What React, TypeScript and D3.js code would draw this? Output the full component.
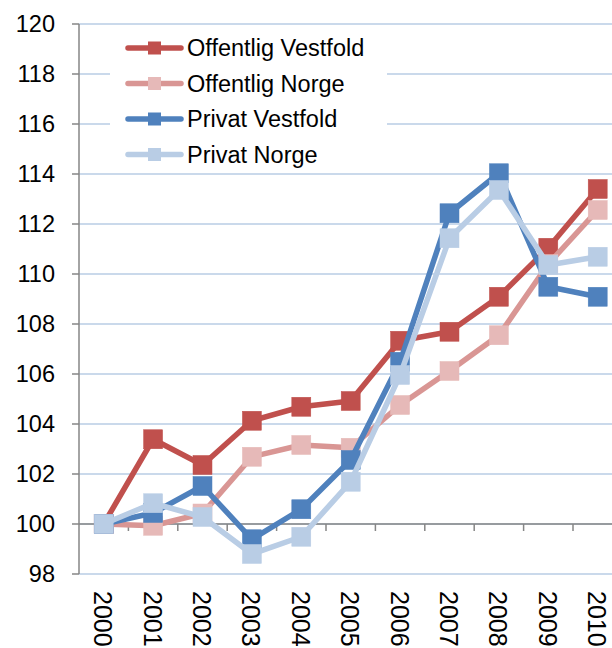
import React from "react";
import * as d3 from "d3";

const years = ["2000","2001","2002","2003","2004","2005","2006","2007","2008","2009","2010"];
const offentligVestfold = [100, 103.39, 102.36, 104.13, 104.69, 104.92, 107.33, 107.69, 109.09, 111.05, 113.4];
const offentligNorge = [100, 99.93, 100.42, 102.69, 103.16, 103.05, 104.76, 106.12, 107.55, 110.4, 112.56];
const privatVestfold = [100, 100.44, 101.52, 99.39, 100.59, 102.56, 106.49, 112.43, 114.03, 109.49, 109.09];
const privatNorge = [100, 100.83, 100.28, 98.8, 99.49, 101.69, 105.96, 111.43, 113.36, 110.36, 110.69];
const yTicks = [98, 100, 102, 104, 106, 108, 110, 112, 114, 116, 118, 120];

const seriesNames = ["Offentlig Vestfold", "Offentlig Norge", "Privat Vestfold", "Privat Norge"];
const seriesValues = [offentligVestfold, offentligNorge, privatVestfold, privatNorge];
const lineColors = ["#C0504D", "#D99694", "#4F81BD", "#B9CDE5"];
const markerColors = ["#C0504D", "#E6B9B8", "#4F81BD", "#B9CDE5"];

export default function App() {
  const W = 612, H = 648;
  const x0 = 79, band = 49.4;
  const x = d3.scaleBand<string>().domain(years).range([x0, x0 + band * years.length]).padding(0);
  const y = d3.scaleLinear().domain([98, 120]).range([574, 24]);
  const cx = (yr: string) => (x(yr) as number) + x.bandwidth() / 2;
  const line = d3.line<number>().x((_, i) => cx(years[i])).y((v) => y(v));
  const font = "'Liberation Sans', Arial, sans-serif";
  const ms = 19;
  const legendRows = [48, 83.5, 119, 154.5];

  return (
    <svg width={W} height={H} style={{ position: "absolute", left: 0, top: 0, background: "#fff" }} fontFamily={font}>
      <rect x={0} y={0} width={W} height={H} fill="#fff" />
      {yTicks.map((t) => (
        <line key={"g" + t} x1={x0} x2={W} y1={y(t)} y2={y(t)} stroke="#B9CDE5" strokeWidth={1.4} />
      ))}
      {/* legend background */}
      <rect x={110} y={30} width={277} height={140} fill="#fff" />
      {/* y axis */}
      <line x1={x0} x2={x0} y1={y(120)} y2={y(98)} stroke="#868686" strokeWidth={1.5} />
      {yTicks.map((t) => (
        <g key={"t" + t}>
          <line x1={72} x2={x0} y1={y(t)} y2={y(t)} stroke="#868686" strokeWidth={1.5} />
          <text x={55} y={y(t)} textAnchor="end" dominantBaseline="central" fontSize={23.5} fill="#000">{t}</text>
        </g>
      ))}
      {/* category axis crossing at 100 */}
      <line x1={x0} x2={W} y1={y(100)} y2={y(100)} stroke="#868686" strokeWidth={1.5} />
      {years.map((yr) => (
        <line key={"ct" + yr} x1={(x(yr) as number) + band} x2={(x(yr) as number) + band} y1={y(100)} y2={y(100) + 7} stroke="#868686" strokeWidth={1.5} />
      ))}
      {years.map((yr) => (
        <text key={"xl" + yr} transform={`translate(${cx(yr) - 0.5},${591}) rotate(90)`} textAnchor="start" dominantBaseline="central" fontSize={25} fill="#000">{yr}</text>
      ))}
      {/* series */}
      {seriesValues.map((vals, si) => (
        <g key={"s" + si}>
          <path d={line(vals) || ""} fill="none" stroke={lineColors[si]} strokeWidth={5.5} strokeLinejoin="round" strokeLinecap="round" />
          {vals.map((v, i) => (
            <rect key={i} x={cx(years[i]) - ms / 2} y={y(v) - ms / 2} width={ms} height={ms} fill={markerColors[si]} stroke={markerColors[si]} strokeWidth={0.5} />
          ))}
        </g>
      ))}
      {/* legend */}
      {seriesNames.map((name, si) => (
        <g key={"l" + si}>
          <line x1={128} x2={181} y1={legendRows[si]} y2={legendRows[si]} stroke={lineColors[si]} strokeWidth={5.5} strokeLinecap="round" />
          <rect x={154.5 - 6.5} y={legendRows[si] - 6.5} width={13} height={13} fill={markerColors[si]} />
          <text x={187} y={legendRows[si]} dominantBaseline="central" fontSize={23.5} fill="#000">{name}</text>
        </g>
      ))}
    </svg>
  );
}
